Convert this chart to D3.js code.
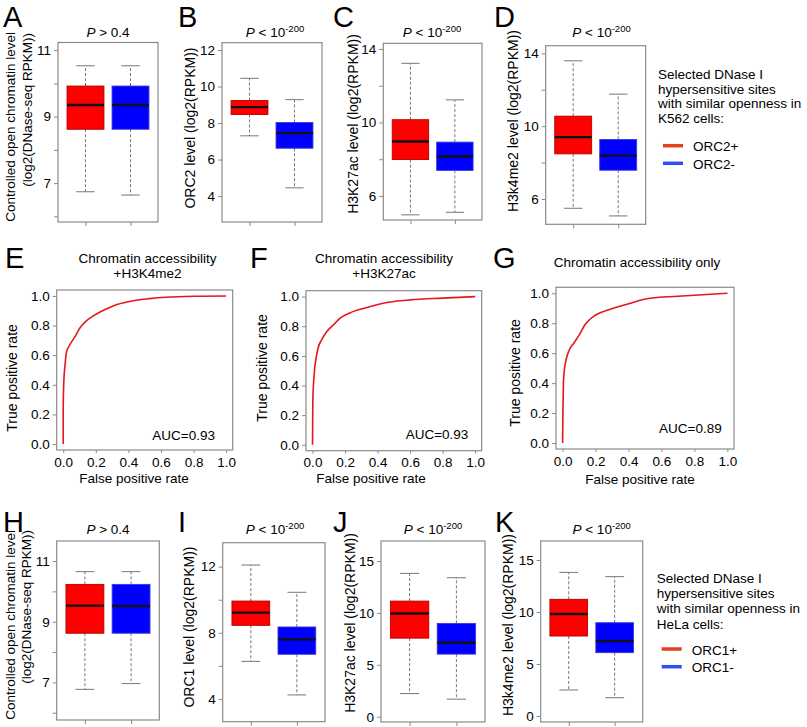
<!DOCTYPE html>
<html><head><meta charset="utf-8">
<script src="https://cdn.jsdelivr.net/npm/d3@7"></script>
<style>
body{margin:0;background:#fff}
svg{display:block}
text{font-family:"Liberation Sans",Arial,Helvetica,sans-serif;fill:#000}
</style>
</head><body>
<svg id="c" width="807" height="727"></svg>
<script>
// ---------------- DATA ----------------
const kCats = ["ORC2+", "ORC2-"];
const hCats = ["ORC1+", "ORC1-"];
// box stats: [lower whisker, Q1, median, Q3, upper whisker]
const openK     = [[6.74, 8.62, 9.35, 9.92, 10.53], [6.64, 8.62, 9.35, 9.92, 10.53]];
const orc2K     = [[7.30, 8.47, 8.87, 9.23, 10.45], [4.45, 6.62, 7.45, 8.03, 9.28]];
const h3k27acK  = [[4.97, 7.98, 8.96, 10.15, 13.22], [5.11, 7.39, 8.15, 8.93, 11.23]];
const h3k4me2K  = [[5.49, 8.48, 9.40, 10.55, 13.59], [5.07, 7.58, 8.38, 9.27, 11.76]];
const openH     = [[6.77, 8.62, 9.53, 10.23, 10.65], [6.96, 8.62, 9.52, 10.23, 10.65]];
const orc1H     = [[6.27, 8.45, 9.22, 9.92, 12.10], [4.24, 6.70, 7.60, 8.35, 10.45]];
const h3k27acH  = [[2.23, 7.57, 9.95, 11.14, 13.81], [1.69, 6.03, 7.12, 8.99, 13.39]];
const h3k4me2H  = [[2.50, 7.69, 9.81, 11.22, 13.81], [1.76, 6.09, 7.21, 8.97, 13.40]];

// tick values and labelled ticks
const ticksOpen = [6, 7, 8, 9, 10, 11], labelsOpen = [7, 9, 11];
const ticksORC2 = [4, 6, 8, 10, 12],   labelsORC2 = [4, 6, 8, 10, 12];
const ticksHist = [6, 8, 10, 12, 14],  labelsHist = [6, 10, 14];
const ticksORC1 = [4, 6, 8, 10, 12],   labelsORC1 = [4, 8, 12];
const ticksHela = [0, 5, 10, 15],      labelsHela = [0, 5, 10, 15];
const rocTicks  = [0, 0.2, 0.4, 0.6, 0.8, 1.0];

// ROC curves
const rocE_fpr = [0, 0, 0.004, 0.01, 0.02, 0.04, 0.07, 0.10, 0.14, 0.18, 0.22, 0.265, 0.33, 0.43, 0.53, 0.63, 0.84, 1.0];
const rocE_tpr = [0, 0.25, 0.43, 0.52, 0.62, 0.67, 0.72, 0.78, 0.83, 0.862, 0.888, 0.912, 0.942, 0.968, 0.982, 0.991, 0.998, 1.0];
const rocF_fpr = [0, 0.002, 0.01, 0.022, 0.036, 0.057, 0.088, 0.129, 0.17, 0.23, 0.33, 0.435, 0.54, 0.6, 0.8, 1.0];
const rocF_tpr = [0, 0.30, 0.47, 0.585, 0.66, 0.71, 0.765, 0.81, 0.855, 0.89, 0.925, 0.955, 0.972, 0.978, 0.99, 1.0];
const rocG_fpr = [0, 0.002, 0.005, 0.01, 0.02, 0.04, 0.07, 0.10, 0.13, 0.20, 0.28, 0.40, 0.52, 0.70, 1.0];
const rocG_tpr = [0, 0.20, 0.40, 0.48, 0.55, 0.62, 0.67, 0.72, 0.78, 0.855, 0.89, 0.93, 0.965, 0.98, 1.0];
const aucE = "0.93", aucF = "0.93", aucG = "0.89";

// ---------------- DRAWING ----------------
const svg = d3.select("#c");
const FONT = 13.5;
const fillCols = ["#ff0000", "#0000ff"];
const edgeCols = ["#b00000", "#3a3ad8"];
const frameCol = "#8a8a8a";

function letter(t, x, y) {
  svg.append("text").attr("x", x).attr("y", y).attr("font-size", 29).text(t);
}
function pTitle(x, y, big) {
  const t = svg.append("text").attr("x", x).attr("y", y).attr("text-anchor", "middle").attr("font-size", FONT);
  t.append("tspan").attr("font-style", "italic").text("P");
  if (big) {
    t.append("tspan").text(" > 0.4");
  } else {
    t.append("tspan").text(" < 10");
    t.append("tspan").attr("font-size", 9.5).attr("dy", -5.5).text("-200");
  }
}
function vLabel(txt, cx, cy, anchor, size) {
  svg.append("text")
    .attr("transform", `translate(${cx},${cy}) rotate(-90)`)
    .attr("dy", "0.35em").attr("text-anchor", anchor || "middle")
    .attr("font-size", size || 14).text(txt);
}
function styleAxis(g) {
  g.select(".domain").remove();
  g.selectAll(".tick line").attr("stroke", frameCol);
  g.selectAll(".tick text").attr("font-size", FONT).attr("fill", "#000")
    .attr("font-family", '"Liberation Sans",Arial,sans-serif');
}

function boxPanel(p) {
  const y = d3.scaleLinear().domain(p.domain).range([p.y1, p.y0]);
  const x = d3.scalePoint().domain(p.cats).range([p.x0, p.x1]).padding(0.611);
  const bw = x.step() * 0.82;
  const g = svg.append("g");
  g.append("g").attr("transform", `translate(${p.x0},0)`)
    .call(d3.axisLeft(y).tickValues(p.ticks).tickSize(4).tickPadding(3)
      .tickFormat(d => p.labels.includes(d) ? d : ""))
    .call(styleAxis);
  g.append("g").attr("transform", `translate(0,${p.y1})`)
    .call(d3.axisBottom(x).tickSize(4).tickFormat(""))
    .call(styleAxis);
  p.data.forEach((s, i) => {
    const cx = x(p.cats[i]);
    const wg = g.append("g").attr("stroke", "#777").attr("stroke-width", 1);
    wg.append("line").attr("x1", cx).attr("x2", cx).attr("y1", y(s[3])).attr("y2", y(s[4])).attr("stroke-dasharray", "3,2");
    wg.append("line").attr("x1", cx).attr("x2", cx).attr("y1", y(s[1])).attr("y2", y(s[0])).attr("stroke-dasharray", "3,2");
    wg.append("line").attr("x1", cx - bw / 4).attr("x2", cx + bw / 4).attr("y1", y(s[4])).attr("y2", y(s[4]));
    wg.append("line").attr("x1", cx - bw / 4).attr("x2", cx + bw / 4).attr("y1", y(s[0])).attr("y2", y(s[0]));
    g.append("rect").attr("x", cx - bw / 2).attr("width", bw)
      .attr("y", y(s[3])).attr("height", y(s[1]) - y(s[3]))
      .attr("fill", fillCols[i]).attr("stroke", edgeCols[i]).attr("stroke-width", 0.9);
    g.append("line").attr("x1", cx - bw / 2).attr("x2", cx + bw / 2)
      .attr("y1", y(s[2])).attr("y2", y(s[2])).attr("stroke", "#111").attr("stroke-width", 2.4);
  });
  g.append("rect").attr("x", p.x0).attr("y", p.y0).attr("width", p.x1 - p.x0).attr("height", p.y1 - p.y0)
    .attr("fill", "none").attr("stroke", frameCol).attr("stroke-width", 1.2);
}

function rocPanel(p) {
  const x = d3.scaleLinear().domain([-0.04, 1.04]).range([p.x0, p.x1]);
  const y = d3.scaleLinear().domain([-0.04, 1.04]).range([p.y1, p.y0]);
  const g = svg.append("g");
  g.append("g").attr("transform", `translate(0,${p.y1})`)
    .call(d3.axisBottom(x).tickValues(rocTicks).tickSize(3).tickPadding(4).tickFormat(d3.format(".1f")))
    .call(styleAxis);
  g.append("g").attr("transform", `translate(${p.x0},0)`)
    .call(d3.axisLeft(y).tickValues(rocTicks).tickSize(4).tickPadding(3).tickFormat(d3.format(".1f")))
    .call(styleAxis);
  const pts = p.fpr.map((f, i) => [f, p.tpr[i]]);
  g.append("path").datum(pts)
    .attr("d", d3.line().x(d => x(d[0])).y(d => y(d[1])).curve(d3.curveMonotoneX))
    .attr("fill", "none").attr("stroke", "#e3171c").attr("stroke-width", 1.6);
  g.append("rect").attr("x", p.x0).attr("y", p.y0).attr("width", p.x1 - p.x0).attr("height", p.y1 - p.y0)
    .attr("fill", "none").attr("stroke", frameCol).attr("stroke-width", 1.2);
  g.append("text").attr("x", p.aucX).attr("y", p.aucY).attr("text-anchor", "end")
    .attr("font-size", FONT).text("AUC=" + p.auc);
  g.append("text").attr("x", p.xlX).attr("y", p.xlY).attr("text-anchor", "middle")
    .attr("font-size", FONT).text("False positive rate");
  vLabel("True positive rate", p.ylX, p.ylY, "middle", 14);
  p.title.forEach((t, i) => {
    g.append("text").attr("x", p.tX).attr("y", p.tY + i * 15).attr("text-anchor", "middle")
      .attr("font-size", FONT).text(t);
  });
}

function legend(lines, cats, x, y0, dy, lineY) {
  lines.forEach((t, i) => svg.append("text").attr("x", x).attr("y", y0 + i * dy).attr("font-size", FONT).text(t));
  const lc = ["#e2401e", "#2a4ff2"];
  cats.forEach((c, i) => {
    svg.append("line").attr("x1", x + 5).attr("x2", x + 25).attr("y1", lineY[i]).attr("y2", lineY[i])
      .attr("stroke", lc[i]).attr("stroke-width", 3.5);
    svg.append("text").attr("x", x + 35).attr("y", lineY[i] + 5.5).attr("font-size", FONT).text(c);
  });
}

// ---- Row 1 (K562) ----
letter("A", 3, 27); letter("B", 178, 27); letter("C", 333, 27); letter("D", 494, 27);
pTitle(108, 37, true); pTitle(275, 37, false); pTitle(432, 37, false); pTitle(601.5, 37, false);
boxPanel({x0: 58, x1: 158, y0: 42.5, y1: 222, domain: [5.83, 11.23], ticks: ticksOpen, labels: labelsOpen, data: openK, cats: kCats});
boxPanel({x0: 222, x1: 322, y0: 42.7, y1: 222, domain: [2.58, 12.40], ticks: ticksORC2, labels: labelsORC2, data: orc2K, cats: kCats});
boxPanel({x0: 383.3, x1: 482, y0: 43.3, y1: 220, domain: [4.69, 14.31], ticks: ticksHist, labels: labelsHist, data: h3k27acK, cats: kCats});
boxPanel({x0: 545.7, x1: 645.7, y0: 45.7, y1: 224.3, domain: [4.61, 14.42], ticks: ticksHist, labels: labelsHist, data: h3k4me2K, cats: kCats});
vLabel("Controlled open chromatin level", 10, 32, "end", 13.5);
vLabel("(log2(DNase-seq RPKM))", 27, 33, "end", 13.5);
vLabel("ORC2 level (log2(RPKM))", 190, 128);
vLabel("H3K27ac level (log2(RPKM))", 353, 124);
vLabel("H3k4me2 level (log2(RPKM))", 513, 121);
legend(["Selected DNase I", "hypersensitive sites", "with similar openness in", "K562 cells:"], kCats,
  658, 79.3, 14.5, [145.7, 163.3]);

// ---- Row 2 (ROC) ----
letter("E", 5, 268); letter("F", 250, 268); letter("G", 493, 268);
rocPanel({x0: 56.7, x1: 232.7, y0: 290, y1: 450, fpr: rocE_fpr, tpr: rocE_tpr, auc: aucE,
  aucX: 215, aucY: 440, xlX: 134, xlY: 482.5, ylX: 12, ylY: 378,
  title: ["Chromatin accessibility", "+H3K4me2"], tX: 147.5, tY: 263});
rocPanel({x0: 306, x1: 481.7, y0: 290.7, y1: 450.7, fpr: rocF_fpr, tpr: rocF_tpr, auc: aucF,
  aucX: 468.3, aucY: 439, xlX: 371, xlY: 483, ylX: 262, ylY: 368,
  title: ["Chromatin accessibility", "+H3K27ac"], tX: 384, tY: 263});
rocPanel({x0: 556, x1: 734, y0: 287.3, y1: 449, fpr: rocG_fpr, tpr: rocG_tpr, auc: aucG,
  aucX: 721.7, aucY: 433, xlX: 640, xlY: 484, ylX: 515, ylY: 373,
  title: ["Chromatin accessibility only"], tX: 637, tY: 267});

// ---- Row 3 (HeLa) ----
letter("H", 3, 532); letter("I", 178, 532); letter("J", 333, 532); letter("K", 495, 532);
pTitle(108, 534, true); pTitle(275, 534, false); pTitle(433, 534, false); pTitle(601.7, 534, false);
boxPanel({x0: 56.7, x1: 159.3, y0: 541, y1: 720, domain: [5.76, 11.66], ticks: ticksOpen, labels: labelsOpen, data: openH, cats: hCats});
boxPanel({x0: 222.7, x1: 325, y0: 542.7, y1: 721.7, domain: [2.62, 13.45], ticks: ticksORC1, labels: labelsORC1, data: orc1H, cats: hCats});
boxPanel({x0: 381, x1: 485, y0: 541, y1: 722, domain: [-0.51, 16.93], ticks: ticksHela, labels: labelsHela, data: h3k27acH, cats: hCats});
boxPanel({x0: 540.7, x1: 642.7, y0: 541, y1: 722, domain: [-0.58, 16.83], ticks: ticksHela, labels: labelsHela, data: h3k4me2H, cats: hCats});
vLabel("Controlled open chromatin level", 10, 530, "end", 13.5);
vLabel("(log2(DNase-seq RPKM))", 26, 530, "end", 13.5);
vLabel("ORC1 level (log2(RPKM))", 189, 627);
vLabel("H3K27ac level (log2(RPKM))", 350, 623);
vLabel("H3k4me2 level (log2(RPKM))", 508, 625);
legend(["Selected DNase I", "hypersensitive sites", "with similar openness in", "HeLa cells:"], hCats,
  656.7, 583, 15.2, [649, 666.7]);
</script>
</body></html>
